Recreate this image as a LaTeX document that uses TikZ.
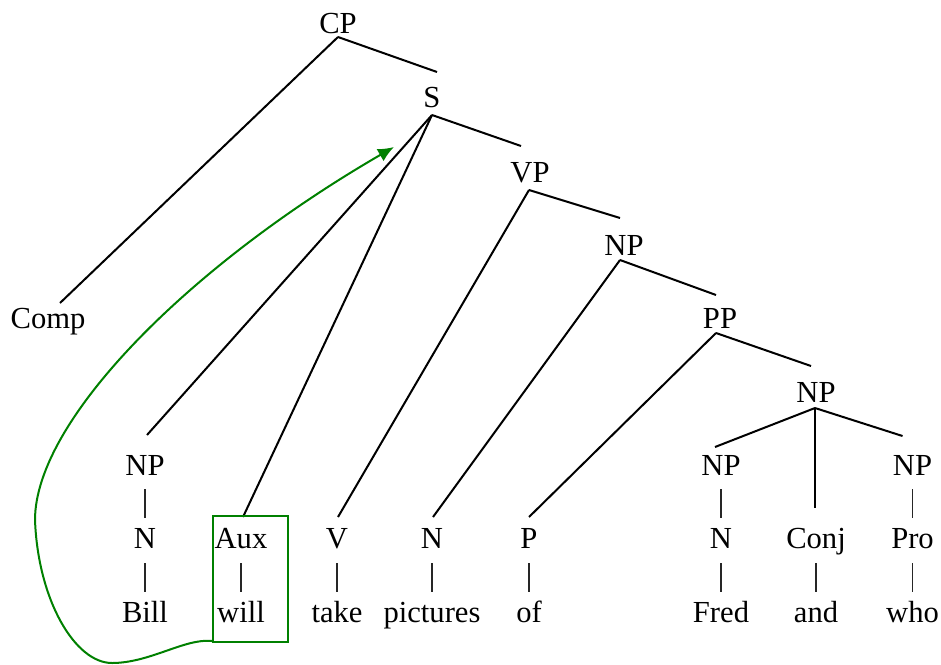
\documentclass[tikz,border=0pt]{standalone}
\usepackage{fontspec}
\setmainfont{Liberation Serif}
\usetikzlibrary{arrows.meta}
\definecolor{movegreen}{RGB}{0,128,0}

\begin{document}
\begin{tikzpicture}[x=0.5pt,y=-0.5pt,
    cat/.style={inner sep=0pt,anchor=base,font=\rmfamily\fontsize{15.3}{18}\selectfont},
    branch/.style={line width=1pt},
    bar/.style={line width=0.6pt,black!85},
    move/.style={movegreen,line width=1pt}]
  \useasboundingbox (0,0) rectangle (941,664);
  % phrase nodes
  \node[cat] (cp) at (338,33) {CP};
  \node[cat] (comp) at (48,328) {Comp};
  \node[cat] (s) at (432,107) {S};
  \node[cat] (vp) at (530,182) {VP};
  \node[cat] (npobj) at (624,255) {NP};
  \node[cat] (pp) at (720,328) {PP};
  \node[cat] (npco) at (816,402) {NP};
  \node[cat] (npsubj) at (145,475) {NP};
  \node[cat] (npfred) at (721,475) {NP};
  \node[cat] (npwho) at (912.5,475) {NP};
  % word categories
  \node[cat] (nbill) at (145,548) {N};
  \node[cat] (aux) at (241,548) {Aux};
  \node[cat] (v) at (337,548) {V};
  \node[cat] (npic) at (432,548) {N};
  \node[cat] (p) at (529,548) {P};
  \node[cat] (nfred) at (721,548) {N};
  \node[cat] (conj) at (816,548) {Conj};
  \node[cat] (pro) at (912.5,548) {Pro};
  % words
  \node[cat] (bill) at (145,622) {Bill};
  \node[cat] (will) at (241,622) {will};
  \node[cat] (take) at (337,622) {take};
  \node[cat] (pictures) at (432,622) {pictures};
  \node[cat] (of) at (529,622) {of};
  \node[cat] (fred) at (721,622) {Fred};
  \node[cat] (and) at (816,622) {and};
  \node[cat] (who) at (912.5,622) {who};
  % branches
  \draw[branch] ([yshift=-2pt]cp.base) -- ([shift={(6pt,12.5pt)}]comp.base);
  \draw[branch] ([yshift=-2pt]cp.base) -- ([shift={(2.5pt,17.5pt)}]s.base);
  \draw[branch] ([yshift=-4pt]s.base) -- ([shift={(1pt,20pt)}]npsubj.base);
  \draw[branch] ([yshift=-4pt]s.base) -- ([shift={(1pt,15.5pt)}]aux.base);
  \draw[branch] ([yshift=-4pt]s.base) -- ([shift={(-4.5pt,18pt)}]vp.base);
  \draw[branch] ([shift={(-0.5pt,-4pt)}]vp.base) -- ([shift={(0.5pt,15.5pt)}]v.base);
  \draw[branch] ([shift={(-0.5pt,-4pt)}]vp.base) -- ([shift={(-2pt,18.5pt)}]npobj.base);
  \draw[branch] ([shift={(-2pt,-2.5pt)}]npobj.base) -- ([shift={(0.5pt,15.5pt)}]npic.base);
  \draw[branch] ([shift={(-2pt,-2.5pt)}]npobj.base) -- ([shift={(-2pt,16.5pt)}]pp.base);
  \draw[branch] ([shift={(-2pt,-2.5pt)}]pp.base) -- ([yshift=15.5pt]p.base);
  \draw[branch] ([shift={(-2pt,-2.5pt)}]pp.base) -- ([shift={(-2.5pt,18pt)}]npco.base);
  \draw[branch] ([shift={(-0.5pt,-3pt)}]npco.base) -- ([shift={(-3pt,14pt)}]npfred.base);
  \draw[branch] ([shift={(-0.5pt,-3pt)}]npco.base) -- ([shift={(-0.5pt,20pt)}]conj.base);
  \draw[branch] ([shift={(-0.5pt,-3pt)}]npco.base) -- ([shift={(-5pt,19.5pt)}]npwho.base);
  % unary bars
  \draw[bar] ([yshift=-7pt]npsubj.base) -- ([yshift=15pt]nbill.base);
  \draw[bar] ([yshift=-7pt]npfred.base) -- ([yshift=15pt]nfred.base);
  \draw[bar] ([yshift=-7pt]npwho.base) -- ([yshift=15pt]pro.base);
  \foreach \c/\w in {nbill/bill,aux/will,v/take,npic/pictures,p/of,nfred/fred,conj/and,pro/who}
    \draw[bar] ([yshift=-7.5pt]\c.base) -- ([yshift=15pt]\w.base);
  % moved auxiliary
  \node[draw=movegreen,line width=1pt,inner sep=0pt,
        minimum width=37.5pt,minimum height=63pt] (mvbox) at (250.5,579) {};
  \coordinate (landing) at (394,147);
  \draw[move,-{Latex[length=8pt,width=7pt]}]
    ([yshift=1pt]mvbox.south west) .. controls (185,638) and (150,663) .. (112,663)
    .. controls (75,663) and (38,600) .. (35,520)
    .. controls (35,420) and (190,265) .. (landing);
\end{tikzpicture}
\end{document}
